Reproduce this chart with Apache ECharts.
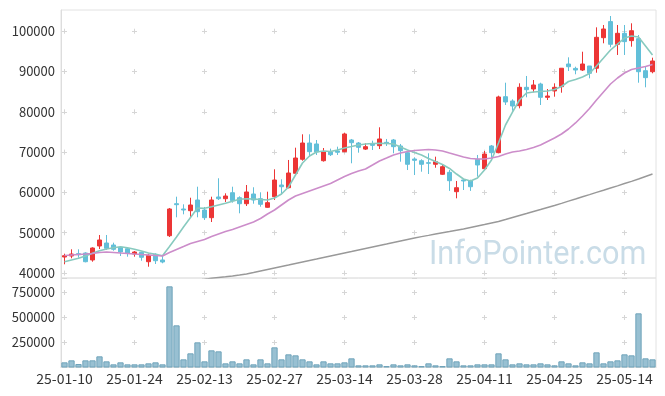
<!DOCTYPE html>
<html><head><meta charset="utf-8">
<script src="https://cdn.jsdelivr.net/npm/echarts@6/dist/echarts.min.js"></script>
<style>html,body{margin:0;padding:0;background:#fff}#c{width:665px;height:396px}</style>
</head><body><div id="c"></div>
<script>
const dates = ['25-01-10','25-01-13','25-01-14','25-01-15','25-01-16','25-01-17','25-01-20','25-01-21','25-01-22','25-01-23','25-01-24','25-01-31','25-02-03','25-02-04','25-02-05','25-02-06','25-02-07','25-02-10','25-02-11','25-02-12','25-02-13','25-02-14','25-02-17','25-02-18','25-02-19','25-02-20','25-02-21','25-02-24','25-02-25','25-02-26','25-02-27','25-02-28','25-03-04','25-03-05','25-03-06','25-03-07','25-03-10','25-03-11','25-03-12','25-03-13','25-03-14','25-03-17','25-03-18','25-03-19','25-03-20','25-03-21','25-03-24','25-03-25','25-03-26','25-03-27','25-03-28','25-03-31','25-04-01','25-04-02','25-04-03','25-04-04','25-04-07','25-04-08','25-04-09','25-04-10','25-04-11','25-04-14','25-04-15','25-04-16','25-04-17','25-04-18','25-04-21','25-04-22','25-04-23','25-04-24','25-04-25','25-04-28','25-04-29','25-04-30','25-05-02','25-05-07','25-05-08','25-05-09','25-05-12','25-05-13','25-05-14','25-05-15','25-05-16','25-05-19','25-05-20'];

const openP = [43970,44220,44800,44960,43230,46700,47440,46950,46380,46030,44710,45140,42800,44640,43230,49250,57190,55880,55460,58110,55630,53720,58860,58430,59920,58680,57190,59600,58430,56300,58930,61830,61160,64740,68210,72250,72010,67860,70020,70270,70100,73000,72250,70740,72010,71590,72420,73000,71510,69850,68280,67860,67370,66970,64490,64980,60170,63070,62900,68210,65880,71510,69850,83740,82670,81510,86070,85650,86890,83590,85160,86230,91850,90760,90360,91360,90800,98380,102370,96740,99470,97650,98140,90190,89940];
const closeP = [44290,44710,44550,42800,46200,48190,46130,45880,45210,44960,45210,43900,44390,43050,42730,55880,56950,55630,56870,55210,53720,58110,58430,59100,57960,57190,60100,58110,57040,57450,63070,61410,64810,68530,72250,70100,70020,70020,69350,69950,74490,72330,71180,71340,71670,73250,72180,71340,70350,66970,67960,66970,67220,67610,66370,62900,61160,62830,61410,66800,69520,69850,83670,82430,81430,86070,85480,86640,83590,83910,86070,90800,91180,90360,91850,89550,98470,100540,96740,99470,97400,100110,89940,88470,92600];
const lowP = [42160,43650,43800,42650,42800,45950,45700,45530,44220,44040,44040,43050,41560,42230,42410,48930,53820,54560,53820,53820,53150,52650,58110,57620,57450,54810,56620,57190,56450,56200,58110,59600,61010,64310,67860,68860,69280,67640,69030,69280,69950,67220,69850,70520,70520,70760,71510,69700,67610,65550,64310,65130,64560,66120,64310,60370,58530,60590,60370,63900,65550,68460,69700,81680,80270,80850,83590,84830,81680,82920,83740,84730,90110,89300,90110,88300,89690,96990,96000,94090,94090,96150,87210,86070,89550];
const highP = [44790,45880,45880,45140,46380,49430,49430,47520,46530,46280,45460,45280,44790,44890,44390,56130,58930,57040,58680,61410,56380,58930,63500,59770,61410,59030,61830,61270,60020,60170,65730,63250,68040,71090,74410,74410,73000,71010,70850,71340,74810,73250,72500,72170,72830,76150,73250,73250,72010,70100,68700,68210,69700,68860,66970,65550,62830,63250,63150,69280,70270,71760,83990,87210,83090,87060,88880,87880,87210,85650,87060,90800,93510,91180,94900,91360,100950,101530,103760,101530,101530,101950,99050,91360,93420];
const volume = [51700,71700,35000,71700,71700,111700,61700,31700,51700,31700,31700,31700,41700,51700,31700,811700,421700,81700,141700,251700,61700,171700,161700,41700,61700,41700,81700,31700,81700,41700,201700,81700,131700,121700,81700,61700,31700,61700,41700,41700,51700,91700,21700,21700,21700,31700,15000,31700,21700,31700,21700,15000,41700,21700,15000,91700,61700,21700,21700,31700,31700,31700,141700,81700,31700,41700,31700,31700,41700,31700,21700,61700,41700,21700,51700,41700,151700,41700,61700,71700,131700,121700,541700,91700,81700];
const ma5 = [42800,43230,43650,44220,44890,45530,45950,46280,46530,46280,45880,45460,44960,44640,44290,46570,48930,51410,53770,56130,56050,56450,56870,57290,57790,58290,58430,58360,58240,58110,58610,59600,61340,64310,67290,69030,70020,70270,70140,70520,71010,71380,71760,72000,72130,72180,72130,72000,71260,70520,69900,69280,68410,67660,66920,65930,64560,63320,62830,63570,65550,68040,72250,76720,79940,82920,84660,84910,85030,85150,85530,86270,87510,88010,88630,89500,91360,93340,95330,96810,98300,98800,98550,96320,94090];
const ma20 = [44340,44470,44590,44710,44840,45090,45210,45090,44960,44840,44710,44590,44470,44340,44220,45090,45830,46570,47320,47820,48310,49060,49680,50300,50790,51410,52030,52650,53520,54640,55630,56870,58110,59100,59720,60340,60960,61580,62200,63070,63940,64690,65310,65800,66790,67790,68530,69280,69770,70150,70390,70520,70640,70520,70270,69770,69280,68780,68410,68280,68280,68530,68900,69520,70020,70270,70640,71140,71760,72630,73490,74490,75730,77220,78950,80810,82920,84910,86890,88380,89620,90490,90860,91230,91730];
const ma60 = [null,null,null,null,null,null,null,null,null,null,null,null,null,null,null,null,null,null,null,null,38390,38690,38880,39060,39260,39500,39750,40120,40500,40870,41240,41610,41980,42360,42730,43100,43470,43850,44220,44590,44960,45330,45710,46080,46450,46820,47190,47570,47940,48310,48680,49010,49330,49680,50000,50300,50620,50920,51290,51660,52030,52410,52780,53270,53770,54270,54760,55260,55750,56250,56750,57290,57840,58360,58910,59450,60000,60540,61090,61630,62200,62750,63320,63940,64560];
const priceTicks = [40000,50000,60000,70000,80000,90000,100000];

const FONT = "'Noto Sans CJK KR', 'Noto Sans', sans-serif";
const candles = dates.map((d, i) => [openP[i], closeP[i], lowP[i], highP[i]]);
const crossColor = '#d6d6d6';
const plain = v => String(v);

const chart = echarts.init(document.getElementById('c'), null, {renderer: 'canvas'});
chart.setOption({
  animation: false,
  backgroundColor: '#ffffff',
  graphic: [{
    type: 'text', left: 429, top: 238, z: 1, scaleX: 0.9,
    style: {text: 'InfoPointer.com', fontSize: 34, fontFamily: 'Roboto, sans-serif', fill: '#c9dce7'}
  }],
  grid: [
    {left: 61, right: 9, top: 10, height: 268, show: true, borderColor: '#e2e2e2', borderWidth: 1},
    {left: 61, right: 9, top: 278, height: 89.5, show: true, borderColor: '#e2e2e2', borderWidth: 1}
  ],
  xAxis: [
    {type: 'category', gridIndex: 0, data: dates, boundaryGap: true,
     axisLine: {show: false}, axisTick: {show: false}, axisLabel: {show: false},
     splitLine: {show: true, interval: 9, alignWithLabel: true,
       lineStyle: {color: crossColor, width: 1, type: [5, 35.31], dashOffset: 21.6}}},
    {type: 'category', gridIndex: 1, data: dates, boundaryGap: true,
     axisLine: {show: true, lineStyle: {color: '#dddddd'}}, axisTick: {show: false},
     axisLabel: {interval: 9, color: '#333', fontSize: 14, fontFamily: FONT, margin: 4},
     splitLine: {show: true, interval: 9, alignWithLabel: true,
       lineStyle: {color: crossColor, width: 1, type: [5, 20], dashOffset: 13}}}
  ],
  yAxis: [
    {type: 'value', gridIndex: 0, min: 38760, max: 105250, scale: true,
     axisLine: {show: true, lineStyle: {color: '#dddddd'}},
     axisTick: {show: false, customValues: priceTicks},
     axisLabel: {customValues: priceTicks, formatter: plain, color: '#333', fontSize: 13, fontFamily: FONT, margin: 6},
     splitLine: {show: true, lineStyle: {color: crossColor, width: 1, type: [5, 65], dashOffset: 69}}},
    {type: 'value', gridIndex: 1, min: 0, max: 895000, interval: 250000,
     axisLine: {show: true, lineStyle: {color: '#dddddd'}},
     axisTick: {show: false},
     axisLabel: {showMinLabel: false, showMaxLabel: false, formatter: plain, color: '#333', fontSize: 13, fontFamily: FONT, margin: 6},
     splitLine: {show: true, lineStyle: {color: crossColor, width: 1, type: [5, 65], dashOffset: 69}}}
  ],
  series: [
    {type: 'candlestick', xAxisIndex: 0, yAxisIndex: 0, data: candles, barWidth: 5,
     itemStyle: {color: '#ec3535', color0: '#62bfd9', borderColor: '#ec3535', borderColor0: '#62bfd9', borderWidth: 1}},
    {type: 'line', xAxisIndex: 0, yAxisIndex: 0, data: ma5, symbol: 'none', smooth: false,
     lineStyle: {color: '#88cabf', width: 1.6}},
    {type: 'line', xAxisIndex: 0, yAxisIndex: 0, data: ma20, symbol: 'none', smooth: false,
     lineStyle: {color: '#cc8dca', width: 1.6}},
    {type: 'line', xAxisIndex: 0, yAxisIndex: 0, data: ma60, symbol: 'none', smooth: false,
     lineStyle: {color: '#999999', width: 1.4}},
    {type: 'bar', xAxisIndex: 1, yAxisIndex: 1, data: volume, barWidth: '90%',
     itemStyle: {color: '#98c0d2', borderColor: '#6fa3ba', borderWidth: 1}}
  ]
});
</script></body></html>
